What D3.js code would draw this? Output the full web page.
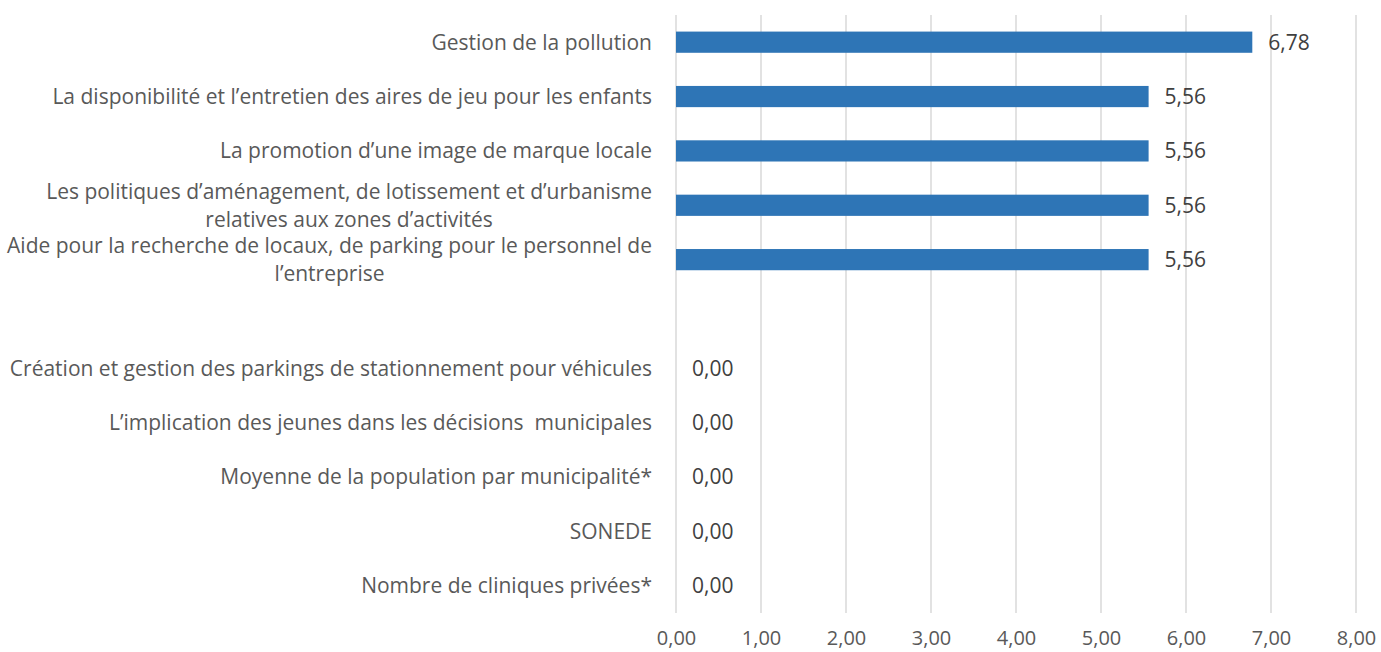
<!DOCTYPE html>
<html>
<head>
<meta charset="utf-8">
<script src="https://cdn.jsdelivr.net/npm/d3@7"></script>
<style>
  body { margin: 0; background: #fff; }
  svg text { font-family: "Open Sans", sans-serif; white-space: pre; }
</style>
</head>
<body>
<svg width="1381" height="652"></svg>
<script>
const categories = [
    ['Gestion de la pollution'],
    ['La disponibilité et l’entretien des aires de jeu pour les enfants'],
    ['La promotion d’une image de marque locale'],
    ['Les politiques d’aménagement, de lotissement et d’urbanisme', 'relatives aux zones d’activités'],
    ['Aide pour la recherche de locaux, de parking pour le personnel de', 'l’entreprise'],
    [],
    ['Création et gestion des parkings de stationnement pour véhicules'],
    ['L’implication des jeunes dans les décisions  municipales'],
    ['Moyenne de la population par municipalité*'],
    ['SONEDE'],
    ['Nombre de cliniques privées*']
];
const values = [6.78, 5.56, 5.56, 5.56, 5.56, null, 0, 0, 0, 0, 0];
const xTicks = [0, 1, 2, 3, 4, 5, 6, 7, 8];

const svg = d3.select('svg');
const plotLeft = 676, plotRight = 1356, plotTop = 15, plotBottom = 613;
const fmt = d => d3.format('.2f')(d).replace('.', ',');

const xScale = d3.scaleLinear()
    .domain([0, 8])
    .range([plotLeft, plotRight]);

const yScale = d3.scaleBand()
    .domain(d3.range(categories.length))
    .range([plotTop, plotBottom])
    .paddingInner(0.61)
    .paddingOuter(0.305);

// gridlines
svg.append('g')
    .selectAll('line')
    .data(xTicks)
    .enter()
    .append('line')
    .attr('x1', d => xScale(d))
    .attr('x2', d => xScale(d))
    .attr('y1', plotTop)
    .attr('y2', plotBottom)
    .attr('stroke', '#d9d9d9')
    .attr('stroke-width', 1.5);

// x axis labels
const xAxis = d3.axisBottom(xScale)
    .tickValues(xTicks)
    .tickFormat(fmt)
    .tickSize(0)
    .tickPadding(18);

svg.append('g')
    .attr('transform', `translate(0, ${plotBottom})`)
    .call(xAxis)
    .call(g => g.select('.domain').remove())
    .call(g => g.selectAll('text')
        .attr('fill', '#595959')
        .style('font-size', '20px')
        .style('font-family', '"Open Sans", sans-serif'));

const rows = values.map((v, i) => ({ i, v, lines: categories[i] }));

// bars
svg.append('g')
    .selectAll('rect')
    .data(rows.filter(d => d.v !== null))
    .enter()
    .append('rect')
    .attr('x', xScale(0))
    .attr('y', d => yScale(d.i))
    .attr('height', yScale.bandwidth())
    .attr('width', d => xScale(d.v) - xScale(0))
    .attr('fill', '#2e75b6');

// data labels
svg.append('g')
    .selectAll('text')
    .data(rows.filter(d => d.v !== null))
    .enter()
    .append('text')
    .attr('x', d => xScale(d.v) + 16)
    .attr('y', d => yScale(d.i) + yScale.bandwidth() / 2)
    .attr('dy', '0.35em')
    .attr('fill', '#404040')
    .style('font-size', '21px')
    .text(d => fmt(d.v));

// category labels, wrapped lines centred on the widest one
const labelRight = 652;
const lineH = 28;
const labels = svg.append('g')
    .selectAll('text')
    .data(rows.filter(d => d.lines.length))
    .enter()
    .append('text')
    .attr('fill', '#595959')
    .style('font-size', '21px')
    .attr('text-anchor', 'middle');

labels.each(function(d) {
    const t = d3.select(this);
    const cy = yScale(d.i) + yScale.bandwidth() / 2;
    const y0 = cy - (d.lines.length - 1) * lineH / 2;
    d.lines.forEach((line, k) => {
        t.append('tspan')
            .attr('y', y0 + k * lineH)
            .attr('dy', '0.35em')
            .text(line);
    });
    let w = 0;
    t.selectAll('tspan').each(function() {
        w = Math.max(w, this.getComputedTextLength());
    });
    t.selectAll('tspan').attr('x', labelRight - w / 2);
});
</script>
</body>
</html>
